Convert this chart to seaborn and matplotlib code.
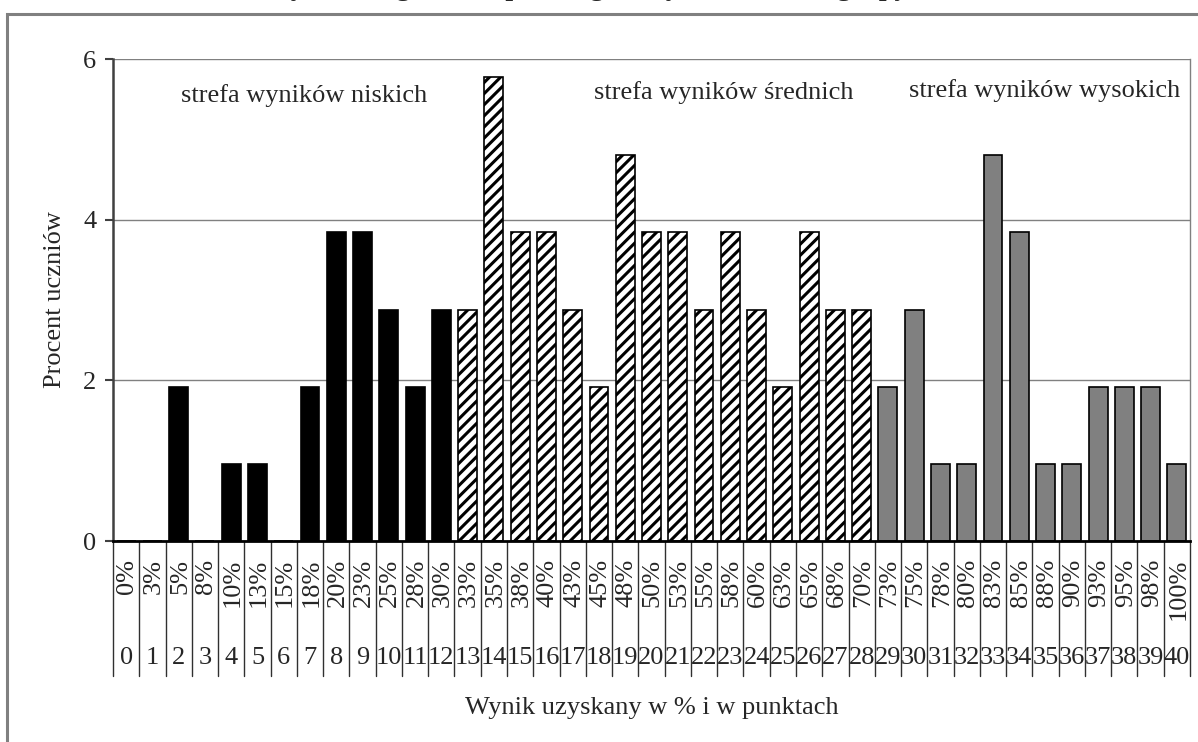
import numpy as np
import pandas as pd
import matplotlib
matplotlib.use("Agg")
import matplotlib.pyplot as plt
import matplotlib.patches as patches
import matplotlib.transforms as mtransforms
import seaborn as sns

# --- data ---
points = list(range(41))
percent_labels = ["0%", "3%", "5%", "8%", "10%", "13%", "15%", "18%", "20%", "23%",
                  "25%", "28%", "30%", "33%", "35%", "38%", "40%", "43%", "45%", "48%",
                  "50%", "53%", "55%", "58%", "60%", "63%", "65%", "68%", "70%", "73%",
                  "75%", "78%", "80%", "83%", "85%", "88%", "90%", "93%", "95%", "98%",
                  "100%"]
student_pct = [0, 0, 1.92, 0, 0.96, 0.96, 0, 1.92, 3.85, 3.85,
               2.88, 1.92, 2.88, 2.88, 5.77, 3.85, 3.85, 2.88, 1.92, 4.81,
               3.85, 3.85, 2.88, 3.85, 2.88, 1.92, 3.85, 2.88, 2.88, 1.92,
               2.88, 0.96, 0.96, 4.81, 3.85, 0.96, 0.96, 1.92, 1.92, 1.92,
               0.96]
zones = ["niskie"] * 13 + ["średnie"] * 16 + ["wysokie"] * 12
zone_labels = ["strefa wyników niskich", "strefa wyników średnich", "strefa wyników wysokich"]
zone_label_pos = [(6.77, 5.54), (22.76, 5.58), (34.98, 5.61)]

title = "Rozkład wyników egzaminu próbnego – wyniki uczniów grupy"

sns.set_theme(style="white")
plt.rcParams['font.family'] = ['Liberation Serif', 'DejaVu Serif']
plt.rcParams['hatch.linewidth'] = 2.2
FS = 19

df = pd.DataFrame({'pkt': points, 'pct': student_pct, 'zone': zones})

W, H = 1198, 742
fig = plt.figure(figsize=(W / 100, H / 100), dpi=100)
ax = fig.add_axes([113 / W, 1 - 541 / H, (1190 - 113) / W, (541 - 59) / H])

palette = {"niskie": "black", "średnie": "white", "wysokie": "#808080"}
sns.barplot(data=df, x='pkt', y='pct', hue='zone', palette=palette, dodge=False,
            legend=False, width=0.72, edgecolor='black', linewidth=1.2, ax=ax,
            order=points, hue_order=["niskie", "średnie", "wysokie"], zorder=3)

for p in ax.patches:
    idx = int(round(p.get_x() + p.get_width() / 2))
    if 0 <= idx < len(zones) and zones[idx] == "średnie":
        p.set_hatch('///')

ax.set_xlim(-0.5, 40.5)
ax.set_ylim(0, 6)
ax.set_yticks([0, 2, 4, 6])
ax.set_yticklabels(["0", "2", "4", "6"], fontsize=FS)
ax.set_xticks([])
ax.set_xlabel("")
ax.set_ylabel("Procent uczniów", fontsize=FS, labelpad=12)
ax.yaxis.grid(True, color='#808080', linewidth=1.0)
ax.set_axisbelow(True)
ax.tick_params(axis='y', direction='out', length=6, width=1.5, color='#404040', pad=6, left=True)
ax.spines['top'].set_visible(False)
ax.spines['right'].set_color('#808080')
ax.spines['right'].set_linewidth(1.0)
ax.spines['left'].set_color('#404040')
ax.spines['left'].set_linewidth(1.8)
ax.spines['bottom'].set_color('black')
ax.spines['bottom'].set_linewidth(2.0)
ax.spines['bottom'].set_zorder(4)

for (x, y), txt in zip(zone_label_pos, zone_labels):
    ax.text(x, y, txt, fontsize=FS, ha='center', va='center')

# table-like category labels under the axis
trans = mtransforms.blended_transform_factory(ax.transData, fig.transFigure)
for k in range(len(points) + 1):
    ax.plot([k - 0.5, k - 0.5], [1 - 541 / H, 1 - 676 / H], color='#303030',
            linewidth=1.0, transform=trans, clip_on=False)
for i, (lab, pk) in enumerate(zip(percent_labels, points)):
    ax.text(i + 0.05, 1 - 559 / H, lab, rotation=90, ha='center', va='top',
            fontsize=FS, transform=trans)
    ax.text(i, 1 - 658 / H, str(pk), ha='center', va='center', fontsize=FS,
            transform=trans)

fig.text((113 + 1190) / 2 / W, 1 - 708 / H, "Wynik uzyskany w % i w punktach",
         ha='center', va='center', fontsize=FS)

# outer frame (cropped on the right and bottom)
fig.patches.append(patches.Rectangle((7 / W, -0.2), 1.2, 1.2 - 14 / H, fill=False,
                                     edgecolor='#808080', linewidth=2.2,
                                     transform=fig.transFigure, figure=fig))
# title is cut off by the top edge in the original picture
fig.text(537 / W, 1 + 5 / H, title, ha='center', va='baseline', fontsize=20,
         fontweight='bold')

fig.savefig("out.png", dpi=100)
